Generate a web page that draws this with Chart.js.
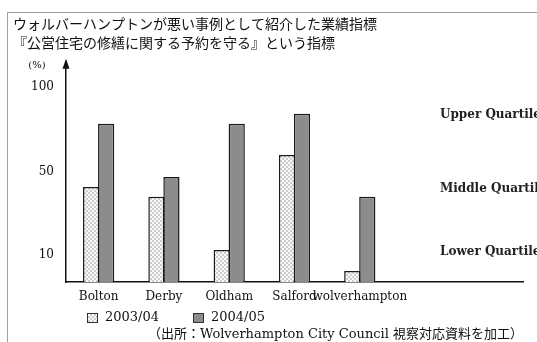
<!DOCTYPE html>
<html>
<head>
<meta charset="utf-8">
<script src="https://cdn.jsdelivr.net/npm/chart.js@4.4.0/dist/chart.umd.min.js"></script>
<style>
    html, body { margin: 0; padding: 0; background: #fff; }
    #wrap { position: relative; width: 537px; height: 342px; overflow: hidden; }
    #wrap canvas { position: absolute; left: 0; top: 0; }
    #frame { position: absolute; left: 7px; top: 12px; right: -2px; bottom: -2px;
             border-left: 1px solid #a0a0a0; border-top: 1px solid #a0a0a0; pointer-events: none; }
</style>
</head>
<body>
<div id="wrap">
    <canvas id="chart" width="537" height="342"></canvas>
    <div id="frame"></div>
</div>
<script>
// Chart data
const titleLines = [
    'ウォルバーハンプトンが悪い事例として紹介した業績指標',
    '『公営住宅の修繕に関する予約を守る』という指標'
];
const categories = ['Bolton', 'Derby', 'Oldham', 'Salford', 'wolverhampton'];
const seriesNames = ['2003/04', '2004/05'];
const values0304 = [48.8, 43.7, 16.4, 65.2, 5.6];
const values0405 = [81.2, 53.9, 81.2, 86.3, 43.7];
// the axis labels of the original sit at these heights on the drawn scale
const tickValues = [13.9, 56.5, 100];
const tickLabels = ['10', '50', '100'];
const quartileNames = ['Upper Quartile', 'Middle Quartile', 'Lower Quartile'];
const quartileLevels = [85.8, 47.8, 15.4];
const unitLabel = '(%)';
const sourceNote = '（出所：Wolverhampton City Council 視察対応資料を加工）';

const serif = "'DejaVu Serif', 'Liberation Serif', serif";
const jp = "'Noto Sans CJK JP', 'Noto Sans', sans-serif";

// light checkered fill used for 2003/04
function checkerPattern() {
    const c = document.createElement('canvas');
    c.width = 4; c.height = 4;
    const g = c.getContext('2d');
    g.fillStyle = '#fafafa';
    g.fillRect(0, 0, 4, 4);
    g.fillStyle = '#cdcdcd';
    g.fillRect(0, 0, 2, 2);
    g.fillRect(2, 2, 2, 2);
    return g.createPattern(c, 'repeat');
}

// arrow on the y axis, unit label, quartile notes and legend
const extras = {
    id: 'extras',
    afterDraw(chart) {
        const { ctx, chartArea } = chart;
        const yScale = chart.scales.y;
        const x0 = chartArea.left;
        ctx.save();

        // arrow head
        ctx.fillStyle = '#111';
        ctx.beginPath();
        ctx.moveTo(x0, chartArea.top - 3);
        ctx.lineTo(x0 - 3.5, chartArea.top + 7);
        ctx.lineTo(x0 + 3.5, chartArea.top + 7);
        ctx.closePath();
        ctx.fill();

        // unit
        ctx.font = '10px ' + serif;
        ctx.textAlign = 'center';
        ctx.textBaseline = 'middle';
        ctx.fillText(unitLabel, x0 - 29, chartArea.top + 4);

        // quartile notes
        ctx.font = 'bold 12px ' + serif;
        ctx.textAlign = 'left';
        ctx.fillStyle = '#222';
        quartileNames.forEach((name, i) => {
            ctx.fillText(name, chartArea.right - 83, yScale.getPixelForValue(quartileLevels[i]));
        });

        // legend
        ctx.font = '13px ' + serif;
        const ly = chartArea.bottom + 36;
        chart.data.datasets.forEach((ds, i) => {
            const lx = chartArea.left + 21 + i * 106;
            ctx.fillStyle = ds.backgroundColor;
            ctx.fillRect(lx, ly - 5, 11, 10);
            ctx.strokeStyle = '#333';
            ctx.lineWidth = 1;
            ctx.strokeRect(lx + 0.5, ly - 4.5, 10, 9);
            ctx.fillStyle = '#111';
            ctx.fillText(ds.label, lx + 18, ly);
        });
        ctx.restore();
    }
};

document.addEventListener('DOMContentLoaded', function() {
    const ctx = document.getElementById('chart').getContext('2d');
    new Chart(ctx, {
        type: 'bar',
        data: {
            // two empty slots keep the open space on the right of the original
            labels: categories.concat(['', '']),
            datasets: [{
                label: seriesNames[0],
                data: values0304,
                backgroundColor: checkerPattern(),
                borderColor: '#1a1a1a',
                borderWidth: 1.5,
                categoryPercentage: 0.46,
                barPercentage: 1.08
            }, {
                label: seriesNames[1],
                data: values0405,
                backgroundColor: '#8c8c8c',
                borderColor: '#1a1a1a',
                borderWidth: 1.5,
                categoryPercentage: 0.46,
                barPercentage: 1.08
            }]
        },
        options: {
            responsive: false,
            animation: false,
            layout: { padding: { left: 13, right: 14, top: 0, bottom: 0 } },
            plugins: {
                legend: { display: false },
                tooltip: { enabled: false },
                title: {
                    display: true,
                    text: titleLines,
                    align: 'start',
                    color: '#111',
                    font: { family: jp, size: 14, weight: 'normal', lineHeight: 1.35 },
                    padding: { top: 14, bottom: 10 }
                },
                subtitle: {
                    display: true,
                    position: 'bottom',
                    text: sourceNote,
                    align: 'end',
                    color: '#111',
                    font: { family: serif + ", 'Noto Sans CJK JP'", size: 13, lineHeight: 1.0 },
                    padding: { top: 24, bottom: 1 }
                }
            },
            scales: {
                x: {
                    grid: { display: false, drawTicks: false },
                    border: { color: '#111', width: 1.5 },
                    afterFit: s => { s.height = 22; },
                    ticks: {
                        color: '#111',
                        font: { family: serif, size: 12 },
                        padding: 8,
                        maxRotation: 0,
                        autoSkip: false
                    }
                },
                y: {
                    min: 0,
                    max: 113,
                    grid: { display: false, drawTicks: false },
                    border: { color: '#111', width: 1.5 },
                    afterFit: s => { s.width = 53; },
                    afterBuildTicks: s => { s.ticks = tickValues.map(v => ({ value: v })); },
                    ticks: {
                        color: '#111',
                        font: { family: serif, size: 12 },
                        padding: 12,
                        callback: (value, index) => tickLabels[index]
                    }
                }
            }
        },
        plugins: [extras]
    });
});
</script>
</body>
</html>
